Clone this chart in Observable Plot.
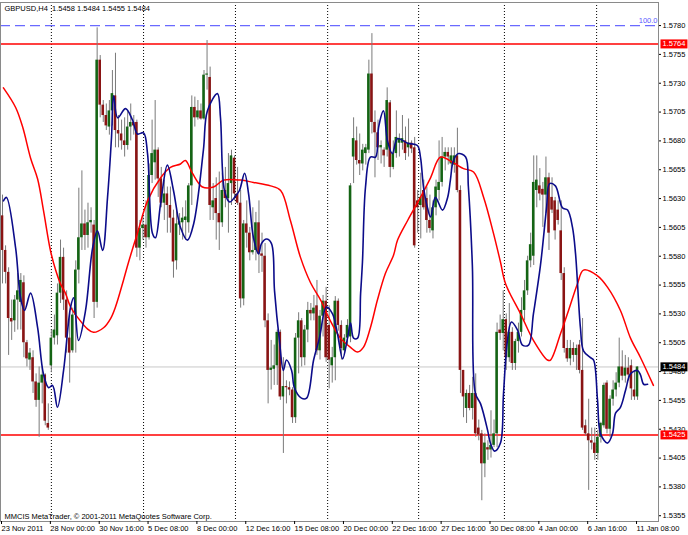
<!DOCTYPE html>
<html><head><meta charset="utf-8">
<script src="https://cdn.jsdelivr.net/npm/d3@7"></script>
<script src="https://cdn.jsdelivr.net/npm/@observablehq/plot@0.6"></script>
<style>
body{margin:0;background:#fff;}
#chart{width:688px;height:535px;}
</style></head><body><div id="chart"></div>
<script>
const symbol = "GBPUSD,H4";
const openP = [
1.5615,1.5585,1.5566,1.5526,1.5524,1.5542,1.5540,1.5557,1.5505,1.5490,
1.5492,1.5471,1.5455,1.5470,1.5477,1.5435,1.5485,1.5509,1.5511,1.5548,
1.5579,1.5542,1.5509,1.5498,1.5529,1.5568,1.5596,1.5608,1.5598,1.5609,
1.5607,1.5540,1.5750,1.5711,1.5702,1.5692,1.5706,1.5719,1.5689,1.5686,
1.5680,1.5676,1.5692,1.5696,1.5696,1.5587,1.5604,1.5607,1.5596,1.5650,
1.5661,1.5672,1.5647,1.5626,1.5634,1.5624,1.5613,1.5576,1.5607,1.5609,
1.5611,1.5609,1.5641,1.5709,1.5700,1.5706,1.5699,1.5737,1.5735,1.5622,
1.5630,1.5617,1.5609,1.5637,1.5630,1.5643,1.5665,1.5634,1.5626,1.5543,
1.5608,1.5600,1.5583,1.5585,1.5609,1.5582,1.5580,1.5524,1.5481,1.5482,
1.5485,1.5514,1.5458,1.5467,1.5466,1.5464,1.5440,1.5509,1.5524,1.5492,
1.5516,1.5533,1.5530,1.5537,1.5498,1.5528,1.5541,1.5520,1.5485,1.5492,
1.5541,1.5520,1.5498,1.5509,1.5510,1.5666,1.5680,1.5663,1.5660,1.5669,
1.5672,1.5738,1.5696,1.5687,1.5674,1.5672,1.5672,1.5713,1.5657,1.5669,
1.5678,1.5678,1.5680,1.5674,1.5678,1.5674,1.5628,1.5624,1.5637,1.5630,
1.5611,1.5602,1.5622,1.5637,1.5644,1.5666,1.5670,1.5660,1.5659,1.5667,
1.5637,1.5481,1.5448,1.5461,1.5448,1.5461,1.5431,1.5426,1.5400,1.5414,
1.5412,1.5416,1.5426,1.5516,1.5513,1.5525,1.5492,1.5514,1.5487,1.5506,
1.5514,1.5533,1.5550,1.5576,1.5580,1.5637,1.5641,1.5638,1.5633,1.5648,
1.5631,1.5628,1.5620,1.5602,1.5565,1.5500,1.5491,1.5500,1.5494,1.5503,
1.5481,1.5433,1.5426,1.5420,1.5418,1.5409,1.5423,1.5433,1.5470,1.5430,
1.5456,1.5464,1.5470,1.5484,1.5476,1.5483,1.5485,1.5464,1.5458];
const highP = [
1.5633,1.5589,1.5570,1.5542,1.5546,1.5565,1.5565,1.5563,1.5507,1.5500,
1.5498,1.5478,1.5484,1.5484,1.5478,1.5452,1.5516,1.5529,1.5556,1.5594,
1.5587,1.5550,1.5530,1.5535,1.5576,1.5639,1.5654,1.5620,1.5626,1.5622,
1.5611,1.5778,1.5754,1.5715,1.5712,1.5715,1.5741,1.5756,1.5702,1.5698,
1.5700,1.5706,1.5712,1.5702,1.5698,1.5611,1.5615,1.5628,1.5660,1.5698,
1.5715,1.5674,1.5657,1.5646,1.5640,1.5640,1.5620,1.5622,1.5617,1.5622,
1.5628,1.5643,1.5719,1.5718,1.5715,1.5712,1.5741,1.5767,1.5744,1.5643,
1.5648,1.5653,1.5652,1.5657,1.5669,1.5672,1.5667,1.5657,1.5637,1.5611,
1.5628,1.5605,1.5622,1.5618,1.5628,1.5600,1.5591,1.5530,1.5507,1.5503,
1.5516,1.5516,1.5492,1.5472,1.5471,1.5466,1.5513,1.5531,1.5526,1.5520,
1.5540,1.5539,1.5546,1.5559,1.5533,1.5546,1.5553,1.5537,1.5501,1.5545,
1.5543,1.5524,1.5512,1.5525,1.5643,1.5700,1.5692,1.5686,1.5677,1.5677,
1.5750,1.5773,1.5706,1.5698,1.5680,1.5674,1.5726,1.5715,1.5680,1.5706,
1.5686,1.5702,1.5692,1.5699,1.5680,1.5683,1.5637,1.5652,1.5646,1.5640,
1.5633,1.5628,1.5646,1.5680,1.5683,1.5674,1.5674,1.5674,1.5674,1.5691,
1.5641,1.5481,1.5464,1.5468,1.5475,1.5478,1.5438,1.5429,1.5426,1.5420,
1.5446,1.5438,1.5522,1.5529,1.5550,1.5530,1.5539,1.5518,1.5508,1.5522,
1.5544,1.5559,1.5580,1.5600,1.5667,1.5667,1.5656,1.5644,1.5666,1.5652,
1.5648,1.5631,1.5628,1.5628,1.5570,1.5507,1.5507,1.5505,1.5503,1.5507,
1.5526,1.5438,1.5456,1.5431,1.5431,1.5429,1.5436,1.5470,1.5472,1.5459,
1.5472,1.5479,1.5509,1.5498,1.5494,1.5492,1.5490,1.5481,1.5484];
const lowP = [
1.5556,1.5556,1.5494,1.5507,1.5514,1.5516,1.5516,1.5492,1.5484,1.5481,
1.5461,1.5449,1.5423,1.5452,1.5433,1.5429,1.5479,1.5503,1.5503,1.5539,
1.5533,1.5496,1.5470,1.5496,1.5496,1.5556,1.5585,1.5585,1.5587,1.5600,
1.5526,1.5535,1.5700,1.5696,1.5689,1.5685,1.5693,1.5674,1.5674,1.5672,
1.5666,1.5672,1.5680,1.5685,1.5579,1.5576,1.5594,1.5587,1.5594,1.5643,
1.5646,1.5631,1.5622,1.5611,1.5600,1.5600,1.5561,1.5568,1.5598,1.5594,
1.5594,1.5600,1.5624,1.5692,1.5698,1.5698,1.5698,1.5724,1.5611,1.5611,
1.5594,1.5585,1.5605,1.5622,1.5600,1.5624,1.5628,1.5624,1.5535,1.5537,
1.5587,1.5576,1.5581,1.5576,1.5565,1.5566,1.5518,1.5452,1.5464,1.5468,
1.5468,1.5455,1.5409,1.5452,1.5459,1.5435,1.5435,1.5478,1.5484,1.5485,
1.5505,1.5524,1.5524,1.5494,1.5490,1.5510,1.5488,1.5465,1.5470,1.5472,
1.5515,1.5490,1.5494,1.5503,1.5505,1.5643,1.5659,1.5650,1.5654,1.5659,
1.5669,1.5686,1.5648,1.5663,1.5660,1.5657,1.5666,1.5648,1.5655,1.5665,
1.5666,1.5672,1.5663,1.5666,1.5669,1.5587,1.5600,1.5595,1.5620,1.5600,
1.5600,1.5595,1.5615,1.5628,1.5640,1.5654,1.5659,1.5654,1.5652,1.5635,
1.5461,1.5440,1.5435,1.5446,1.5438,1.5423,1.5420,1.5368,1.5388,1.5403,
1.5405,1.5414,1.5414,1.5507,1.5498,1.5481,1.5488,1.5481,1.5481,1.5496,
1.5510,1.5524,1.5546,1.5570,1.5572,1.5622,1.5628,1.5605,1.5617,1.5585,
1.5617,1.5594,1.5607,1.5559,1.5496,1.5488,1.5485,1.5488,1.5481,1.5478,
1.5429,1.5424,1.5377,1.5412,1.5403,1.5403,1.5418,1.5431,1.5426,1.5423,
1.5450,1.5458,1.5466,1.5472,1.5470,1.5472,1.5455,1.5455,1.5455];
const closeP = [
1.5585,1.5566,1.5526,1.5523,1.5542,1.5550,1.5559,1.5505,1.5491,1.5496,
1.5471,1.5455,1.5470,1.5477,1.5437,1.5431,1.5509,1.5516,1.5548,1.5579,
1.5542,1.5509,1.5496,1.5529,1.5568,1.5596,1.5608,1.5598,1.5609,1.5611,
1.5540,1.5750,1.5711,1.5702,1.5693,1.5706,1.5721,1.5689,1.5686,1.5680,
1.5676,1.5692,1.5696,1.5693,1.5587,1.5604,1.5607,1.5596,1.5650,1.5669,
1.5672,1.5647,1.5626,1.5634,1.5624,1.5613,1.5575,1.5608,1.5610,1.5613,
1.5614,1.5641,1.5709,1.5700,1.5706,1.5699,1.5737,1.5738,1.5624,1.5628,
1.5617,1.5609,1.5637,1.5630,1.5643,1.5667,1.5634,1.5626,1.5543,1.5608,
1.5600,1.5583,1.5585,1.5609,1.5582,1.5580,1.5524,1.5481,1.5483,1.5485,
1.5514,1.5458,1.5467,1.5466,1.5464,1.5440,1.5509,1.5524,1.5492,1.5516,
1.5533,1.5530,1.5535,1.5498,1.5528,1.5541,1.5492,1.5490,1.5492,1.5541,
1.5520,1.5500,1.5509,1.5520,1.5641,1.5682,1.5663,1.5660,1.5672,1.5674,
1.5738,1.5696,1.5687,1.5674,1.5676,1.5667,1.5715,1.5657,1.5669,1.5683,
1.5682,1.5682,1.5669,1.5678,1.5673,1.5589,1.5622,1.5631,1.5622,1.5611,
1.5604,1.5622,1.5640,1.5644,1.5666,1.5670,1.5666,1.5667,1.5667,1.5637,
1.5481,1.5458,1.5461,1.5448,1.5461,1.5426,1.5425,1.5400,1.5418,1.5412,
1.5416,1.5426,1.5514,1.5513,1.5525,1.5492,1.5514,1.5487,1.5506,1.5514,
1.5533,1.5550,1.5576,1.5590,1.5644,1.5646,1.5634,1.5633,1.5648,1.5600,
1.5620,1.5602,1.5611,1.5565,1.5500,1.5491,1.5500,1.5494,1.5500,1.5481,
1.5431,1.5426,1.5420,1.5418,1.5409,1.5423,1.5435,1.5468,1.5430,1.5456,
1.5464,1.5470,1.5484,1.5476,1.5483,1.5477,1.5465,1.5458,1.5484];

const redMABar = [0.3,4.3,6.6,9.2,11.5,13.4,15.7,17.4,19,20.6,22.3,24.6,27.8,29.8,33.1,35.4,37,39.6,41.3,44.2,47.5,51.8,55,58.3,59.9,62.2,65.5,69.1,72.4,78,82.2,87.8,91.1,94.3,97.6,100.9,104.2,107.4,110.7,114,116.3,118.2,120.5,122.8,125.4,128.1,129.4,132.7,136.9,140.2,143.5,147.7,151,154.3,157.6,160.8,163.1,164.8,169.7,173.9,178.5,179.5,182.8,185.4,188.3,190.3,194.9,198.2,202.4,205.7,209,213.2];
const redMAPrice = [1.5726,1.5709,1.5692,1.5665,1.5647,1.5620,1.5585,1.5568,1.5556,1.5548,1.5536,1.5527,1.5517,1.5514,1.5518,1.5526,1.5536,1.5559,1.5575,1.5600,1.5628,1.5648,1.5657,1.5660,1.5663,1.5652,1.5640,1.5640,1.5646,1.5646,1.5644,1.5641,1.5637,1.5611,1.5579,1.5557,1.5542,1.5524,1.5509,1.5501,1.5497,1.5501,1.5518,1.5542,1.5565,1.5581,1.5594,1.5611,1.5631,1.5648,1.5666,1.5661,1.5656,1.5653,1.5631,1.5600,1.5575,1.5556,1.5530,1.5507,1.5490,1.5490,1.5513,1.5533,1.5556,1.5568,1.5563,1.5553,1.5533,1.5509,1.5492,1.5468];

const blueMABar = [0.3,1.3,4.3,5.9,7.2,9.2,11.5,13.4,15.1,16.4,18,20,22.3,23.3,24.9,27.2,29.5,31.1,32.8,34.4,35.7,36.4,37.7,40.3,42.6,44.2,46.2,47.5,49.1,50.1,51.8,54,56,58.3,60.6,62.6,65.8,67.1,70.4,71.4,72.7,74.4,76,77.6,79.3,80.6,82.2,83.9,84.8,86.5,88.1,89.1,90.7,92,93,94.7,95.6,97.9,99.6,101.9,103.8,106.1,108.1,109.7,111.4,113,114,115,116.3,117.3,117.9,118.9,120.5,122.2,123.2,124.8,126.1,127.7,129.4,132.7,135.9,136.9,137.9,139.2,140.2,141.8,144.1,145.8,146.7,147.7,149.4,151.7,152.6,153.9,154.9,156.6,158.9,159.8,161.2,163.1,164.1,165.4,166.7,168.7,170.3,172.3,173.9,176.2,178.2,179.2,181.1,183.4,185.1,186.7,187.7,189.3,190.3,192.6,193.6,194.9,195.9,198.2,199.8,200.8,202.4,204.1,205.7,208,209,210,211.3];
const blueMAPrice = [1.5628,1.5631,1.5587,1.5544,1.5533,1.5548,1.5518,1.5478,1.5466,1.5468,1.5449,1.5481,1.5536,1.5544,1.5507,1.5533,1.5587,1.5602,1.5585,1.5631,1.5683,1.5719,1.5700,1.5708,1.5698,1.5686,1.5687,1.5669,1.5600,1.5596,1.5626,1.5659,1.5637,1.5605,1.5594,1.5608,1.5672,1.5706,1.5721,1.5700,1.5637,1.5627,1.5631,1.5637,1.5652,1.5634,1.5596,1.5582,1.5591,1.5595,1.5591,1.5550,1.5507,1.5481,1.5490,1.5481,1.5466,1.5457,1.5457,1.5490,1.5509,1.5536,1.5530,1.5513,1.5491,1.5509,1.5522,1.5509,1.5509,1.5548,1.5575,1.5640,1.5666,1.5666,1.5692,1.5706,1.5680,1.5669,1.5682,1.5678,1.5676,1.5666,1.5640,1.5622,1.5614,1.5631,1.5620,1.5631,1.5646,1.5663,1.5669,1.5666,1.5640,1.5572,1.5461,1.5452,1.5429,1.5418,1.5411,1.5418,1.5461,1.5507,1.5523,1.5516,1.5503,1.5503,1.5530,1.5572,1.5622,1.5643,1.5641,1.5622,1.5620,1.5605,1.5582,1.5518,1.5498,1.5492,1.5490,1.5455,1.5426,1.5418,1.5426,1.5444,1.5449,1.5464,1.5478,1.5481,1.5477,1.5469,1.5469];

const dateLabelBars = [0,16,32,48,64,80,96,112,128,144,160,176,192,208];
const dateLabels = ["23 Nov 2011","28 Nov 00:00","30 Nov 16:00","5 Dec 08:00","8 Dec 00:00","12 Dec 16:00","15 Dec 08:00","20 Dec 00:00","22 Dec 16:00","27 Dec 16:00","30 Dec 08:00","4 Jan 00:00","6 Jan 16:00","11 Jan 08:00"];
const gridBars = [16, 46.2, 76.3, 106.5, 136.3, 164.4, 194.6];
const priceTicks = [1.5355,1.5380,1.5405,1.5430,1.5455,1.5480,1.5505,1.5530,1.5555,1.5580,1.5605,1.5630,1.5655,1.5680,1.5705,1.5730,1.5755,1.5780];
const resistanceLevel = 1.5764;
const supportLevel = 1.5425;
const bidPrice = 1.5484;
const fiboLevel = 1.5780;
const fiboLabel = "100.0";
const copyright = "MMCIS MetaTrader, \u00a9 2001-2011 MetaQuotes Software Corp.";

const candles = openP.map((o, i) => ({i, o, h: highP[i], l: lowP[i], c: closeP[i]}));
const redMA = redMABar.map((b, k) => ({b, p: redMAPrice[k]}));
const blueMA = blueMABar.map((b, k) => ({b, p: blueMAPrice[k]}));
const last = candles[candles.length - 1];
const header = `${symbol}  ${last.o.toFixed(4)} ${last.h.toFixed(4)} ${last.l.toFixed(4)} ${last.c.toFixed(4)}`;
const font = "'Liberation Sans', Arial, sans-serif";

const redBoxes = [resistanceLevel, supportLevel].map(v => v.toFixed(4));
const blackBoxes = [bidPrice].map(v => v.toFixed(4));

const chart = Plot.plot({
  width: 688, height: 535,
  marginLeft: 0, marginRight: 30, marginTop: 2, marginBottom: 14,
  x: {domain: [-0.66, 214.87], axis: null},
  y: {domain: [1.5350, 1.5800], axis: null},
  style: {fontFamily: font, fontSize: "7.5px", background: "#ffffff", color: "#000", overflow: "visible"},
  marks: [
    Plot.ruleX(gridBars, {x: d => d, stroke: "#000", strokeDasharray: "1,2", strokeWidth: 1}),
    Plot.ruleY([fiboLevel], {y: d => d, stroke: "#6a6aff", strokeDasharray: "10,5", strokeWidth: 1.3}),
    Plot.ruleY([bidPrice], {y: d => d, stroke: "#c8c8c8", strokeWidth: 1}),
    Plot.ruleY([resistanceLevel, supportLevel], {y: d => d, stroke: "#ff0000", strokeWidth: 1.6}),
    Plot.ruleX(candles, {x: "i", y1: "l", y2: "h", stroke: "#7a7a7a", strokeWidth: 1}),
    Plot.rect(candles, {x1: d => d.i - 0.42, x2: d => d.i + 0.42, y1: "o", y2: d => (Math.abs(d.c - d.o) < 0.00005 ? d.o + 0.00008 : d.c),
      fill: d => d.c >= d.o ? "#146414" : "#8a1414"}),
    Plot.line(redMA, {x: "b", y: "p", stroke: "#ff0000", strokeWidth: 1.5, curve: "catmull-rom"}),
    Plot.line(blueMA, {x: "b", y: "p", stroke: "#0c0c8a", strokeWidth: 1.6, curve: "catmull-rom"}),
    Plot.frame({stroke: "#8a8a8a"}),
    Plot.axisY(priceTicks, {anchor: "right", tickSize: 2, tickPadding: 2, tickFormat: d => d.toFixed(4), fontSize: 7.5}),
    Plot.axisX(dateLabelBars, {anchor: "bottom", tickSize: 3, tickPadding: 1, textAnchor: "start", dx: -1,
      tickFormat: d => dateLabels[dateLabelBars.indexOf(d)], fontSize: 7.5}),
    Plot.text([fiboLabel], {y: () => fiboLevel, frameAnchor: "right", textAnchor: "end", dy: -5, dx: -1, fill: "#5a5aff", fontSize: 7.5, text: d => d}),
    Plot.text([header], {frameAnchor: "top-left", lineAnchor: "middle", textAnchor: "start", dx: 4, dy: 6, fill: "#000", fontSize: 7.5, text: d => d}),
    Plot.text([copyright], {frameAnchor: "bottom-left", lineAnchor: "middle", textAnchor: "start", dx: 4, dy: -5, fill: "#000", fontSize: 7.5, text: d => d}),
    Plot.text([resistanceLevel, supportLevel, bidPrice], {y: d => d, frameAnchor: "right", textAnchor: "start", dx: 4, fill: "#ffffff", fontSize: 7.5, text: d => d.toFixed(4)})
  ]
});
document.getElementById("chart").append(chart);

// colored boxes behind the price labels on the right scale
chart.querySelectorAll("text").forEach(t => {
  const s = t.textContent.trim();
  const fill = t.getAttribute("fill") || (t.parentNode && t.parentNode.getAttribute && t.parentNode.getAttribute("fill"));
  if (fill !== "#ffffff" && fill !== "white") return;
  let color = null;
  if (redBoxes.includes(s)) color = "#ff0000";
  else if (blackBoxes.includes(s)) color = "#000000";
  if (!color) return;
  const b = t.getBBox();
  const r = document.createElementNS("http://www.w3.org/2000/svg", "rect");
  r.setAttribute("x", b.x - 2);
  r.setAttribute("y", b.y);
  r.setAttribute("width", b.width + 4);
  r.setAttribute("height", b.height);
  r.setAttribute("fill", color);
  if (t.getAttribute("transform")) r.setAttribute("transform", t.getAttribute("transform"));
  t.parentNode.insertBefore(r, t);
});
</script>
</body></html>
